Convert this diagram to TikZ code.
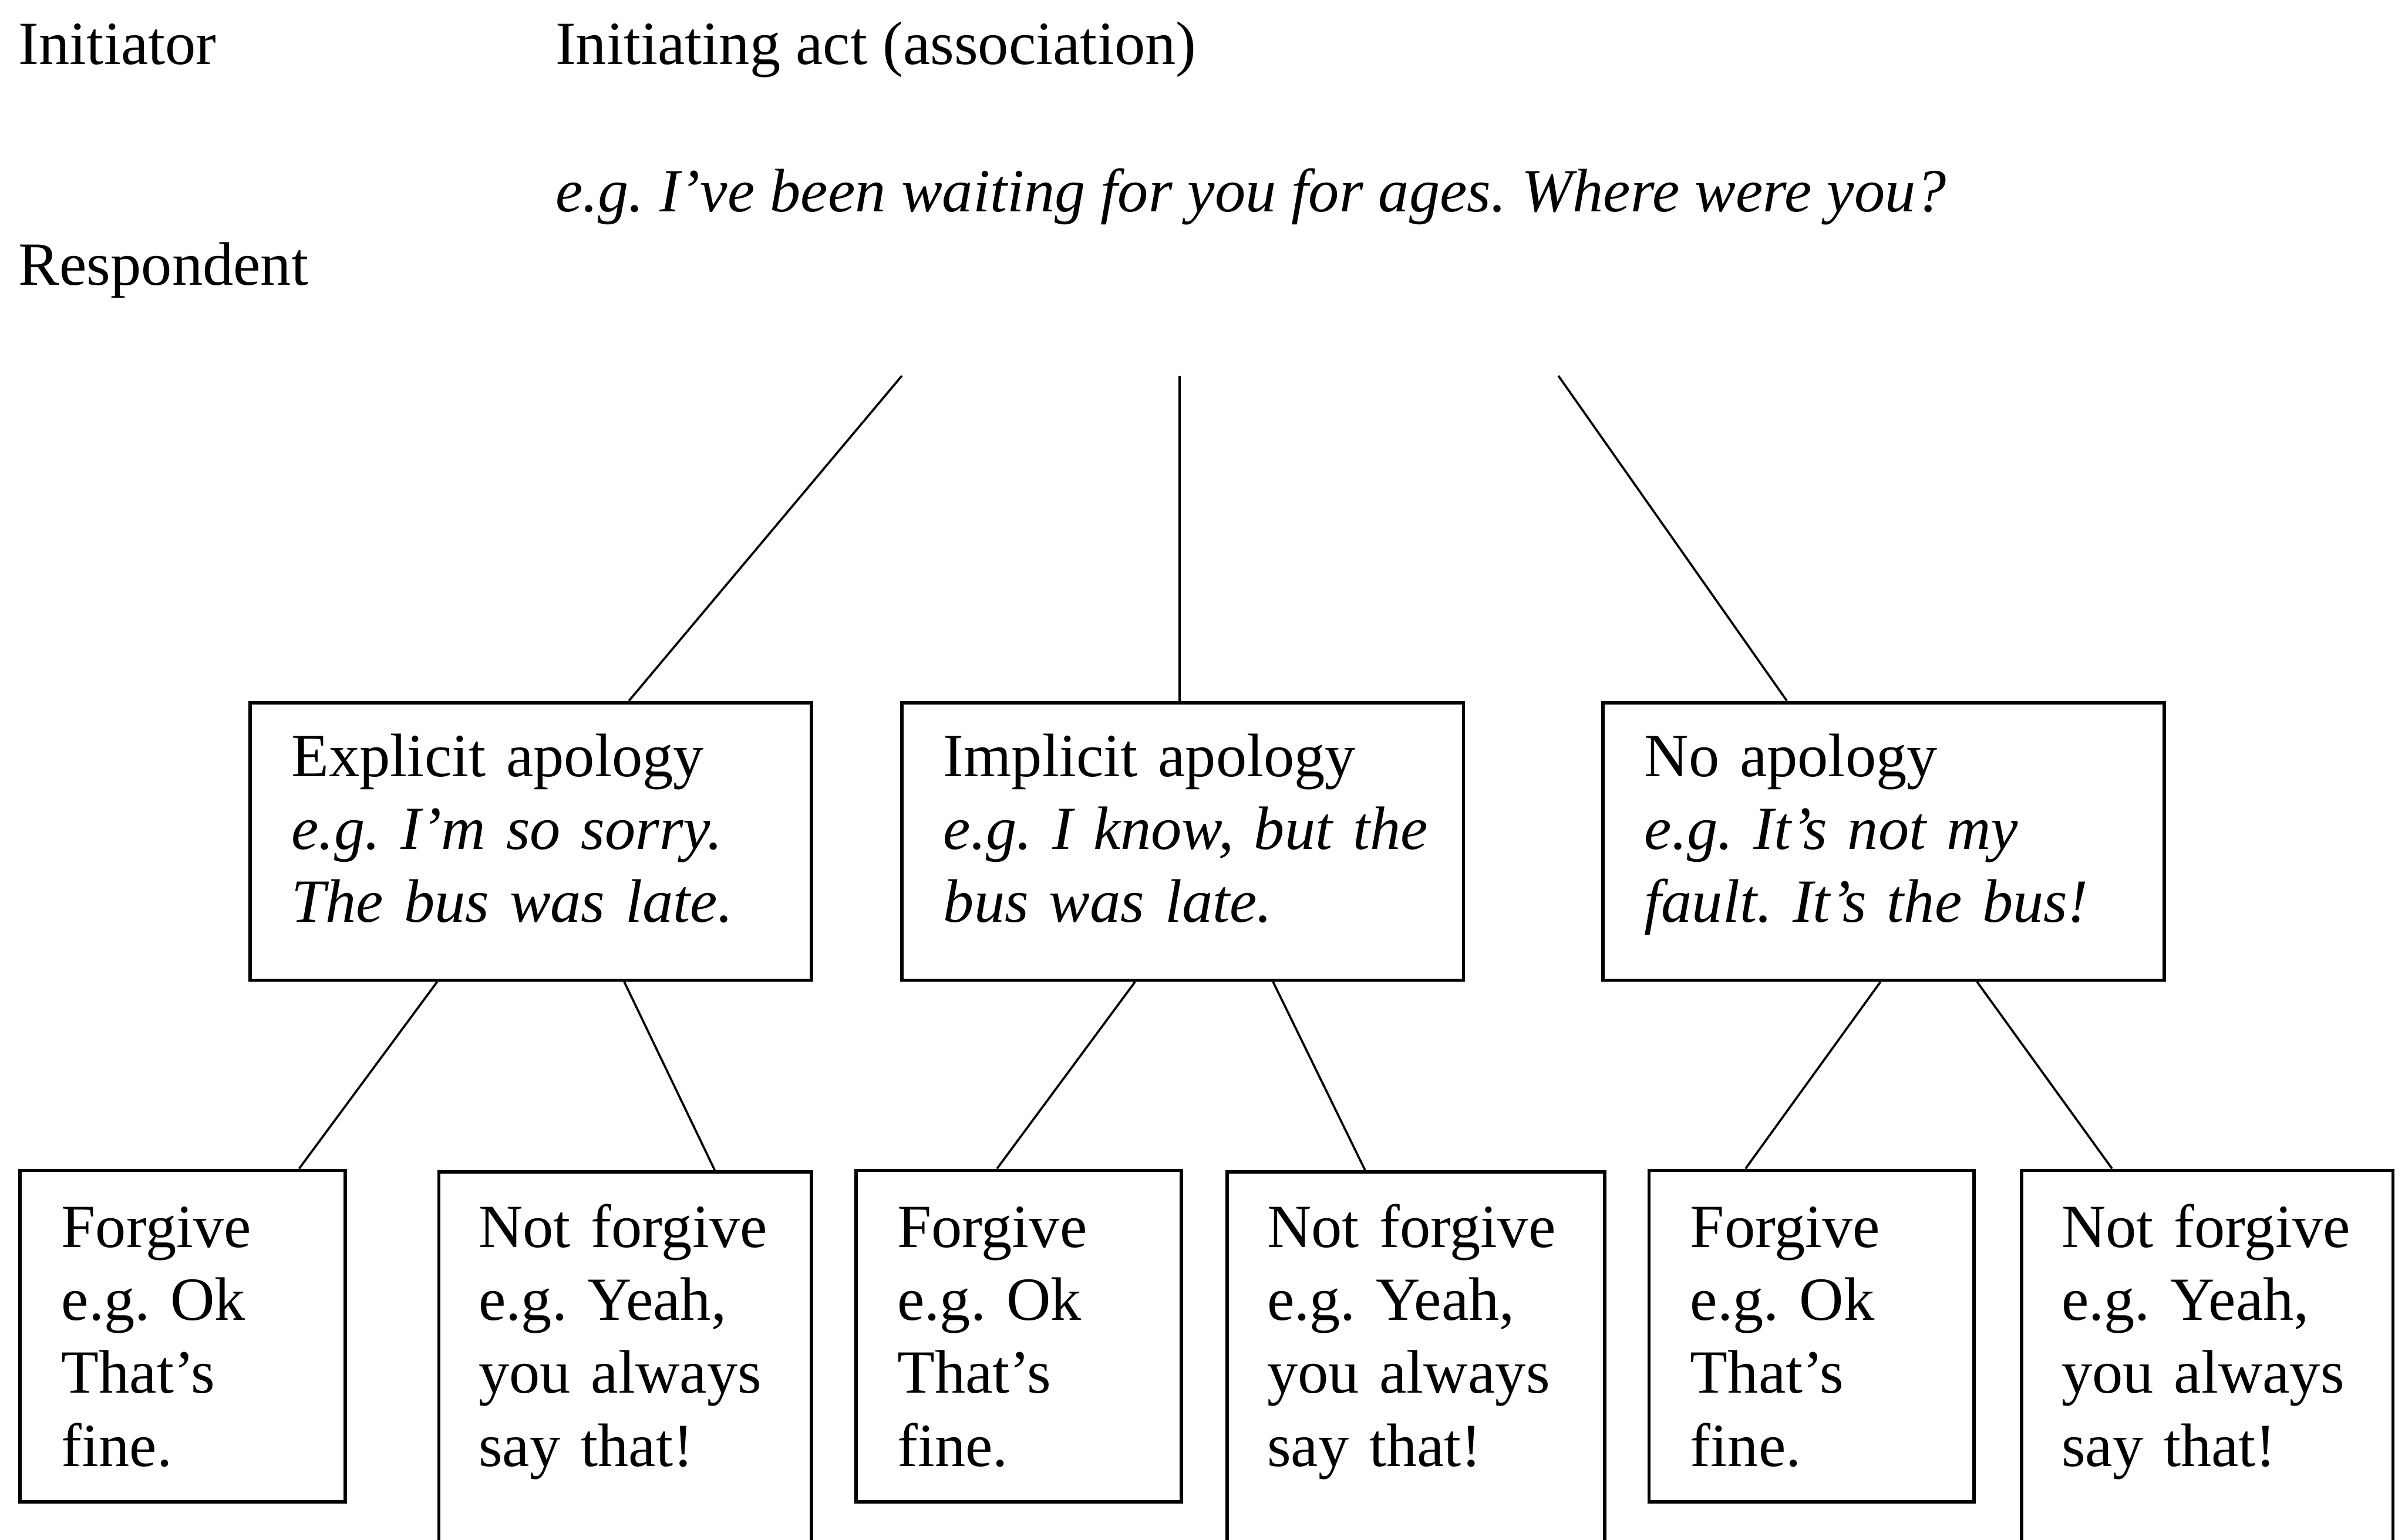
\documentclass[tikz,border=0pt]{standalone}
\usepackage{fontspec}
\setmainfont{Liberation Serif}
\frenchspacing
\newcommand{\topst}[1]{\rule{0pt}{#1}}
\newcommand{\botst}[1]{\rule[-#1]{0pt}{0pt}}
\begin{document}
\begin{tikzpicture}[x=1pt,y=-1pt,
  every node/.style={font=\fontsize{40}{47.6}\selectfont\frenchspacing, inner sep=0pt},
  lbl/.style={anchor=base west},
  boxbase/.style={draw, line width=2.2pt, anchor=north west, align=left, inner ysep=0pt},
  boxm/.style={boxbase, inner xsep=27pt, text width=312pt},
  boxf/.style={boxbase, inner xsep=27pt, text width=158pt},
  boxn/.style={boxbase, inner xsep=26pt},
  conn/.style={line width=1.4pt}]
\useasboundingbox (0,0) rectangle (1568,1004);
\clip (0,0) rectangle (1568,1004);

% header texts
\node[lbl] (init) at (12,42) {Initiator};
\node[lbl] (resp) at (12,186) {Respondent};
\node[lbl] (act) at (362,42) {Initiating act (association)};
\node[lbl] (eg) at (362,138) {\textit{e.g. I’ve been waiting for you for ages. Where were you?}};

% free ends of the top connectors
\coordinate (t1) at (588,245);
\coordinate (t2) at (769,245);
\coordinate (t3) at (1016,245);

% middle boxes
\node[boxm] (ex) at (162,457) {\topst{48pt}Explicit apology\\ \mbox{\textit{e.g. I’m so sorry.}}\\ \mbox{\textit{The bus was late.}}\botst{37.8pt}};
\node[boxm] (im) at (587,457) {\topst{48pt}Implicit apology\\ \mbox{\textit{e.g. I know, but the}}\\ \mbox{\textit{bus was late.}}\botst{37.8pt}};
\node[boxm] (no) at (1044,457) {\topst{48pt}No apology\\ \mbox{\textit{e.g. It’s not my}}\\ \mbox{\textit{fault. It’s the bus!}}\botst{37.8pt}};

% bottom boxes
\node[boxf] (f1) at (12,762) {\topst{50pt}Forgive\\ e.g. Ok\\ That’s\\ fine.\botst{23.2pt}};
\node[boxn, text width=191pt] (n1) at (285,763) {\topst{49pt}\mbox{Not forgive}\\ e.g. Yeah,\\ \mbox{you always}\\ say that!\botst{70pt}};
\node[boxf] (f2) at (557,762) {\topst{50pt}Forgive\\ e.g. Ok\\ That’s\\ fine.\botst{23.2pt}};
\node[boxn, text width=194pt] (n2) at (799,763) {\topst{49pt}\mbox{Not forgive}\\ e.g. Yeah,\\ \mbox{you always}\\ say that!\botst{70pt}};
\node[boxf] (f3) at (1074,762) {\topst{50pt}Forgive\\ e.g. Ok\\ That’s\\ fine.\botst{23.2pt}};
\node[boxn, text width=190pt] (n3) at (1317,762) {\topst{50pt}\mbox{Not forgive}\\ e.g. Yeah,\\ \mbox{you always}\\ say that!\botst{70pt}};

% connectors
\draw[conn] (t1) -- ([xshift=248pt]ex.north west);
\draw[conn] (t2) -- ([xshift=182pt]im.north west);
\draw[conn] (t3) -- ([xshift=121pt]no.north west);
\draw[conn] ([xshift=123pt]ex.south west) -- ([xshift=183pt]f1.north west);
\draw[conn] ([xshift=245pt]ex.south west) -- ([xshift=181pt]n1.north west);
\draw[conn] ([xshift=153pt]im.south west) -- ([xshift=93pt]f2.north west);
\draw[conn] ([xshift=243pt]im.south west) -- ([xshift=91pt]n2.north west);
\draw[conn] ([xshift=182pt]no.south west) -- ([xshift=64pt]f3.north west);
\draw[conn] ([xshift=245pt]no.south west) -- ([xshift=60pt]n3.north west);
\end{tikzpicture}
\end{document}
